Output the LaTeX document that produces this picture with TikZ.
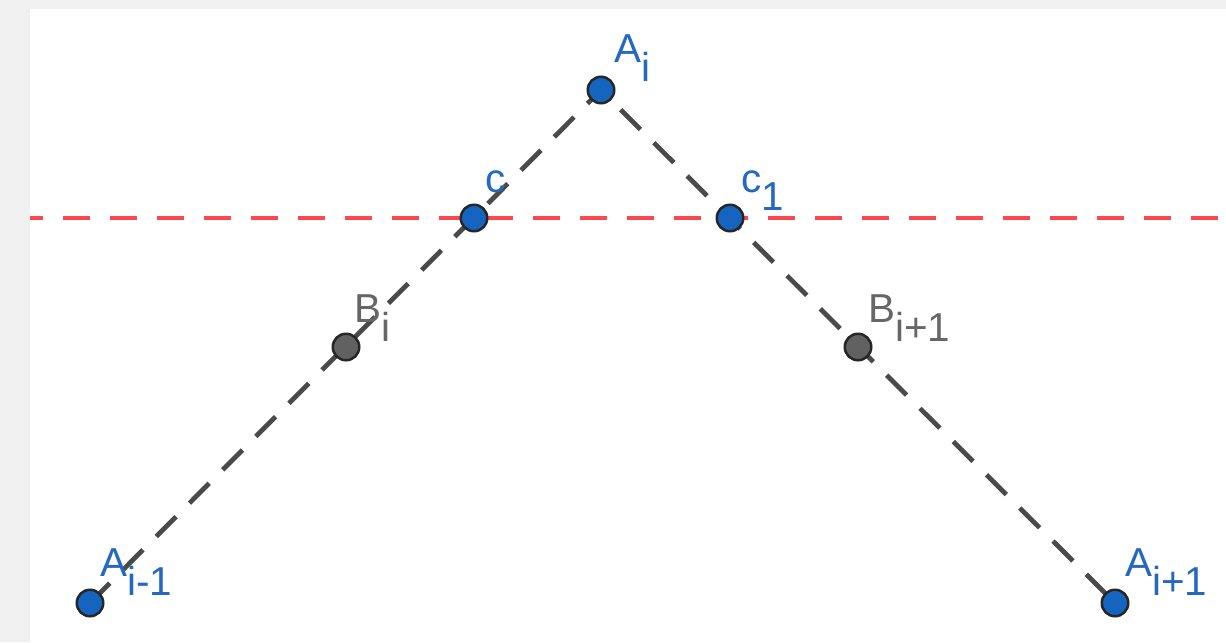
\documentclass[tikz,border=0pt]{standalone}
\usepackage{fontspec}
\setmainfont{Liberation Sans}
\definecolor{ptblue}{HTML}{1565C0}
\definecolor{lblblue}{HTML}{2468C4}
\definecolor{ptgray}{HTML}{616161}
\definecolor{lblgray}{HTML}{666666}
\definecolor{segcol}{HTML}{4A4A4A}
\definecolor{redline}{RGB}{250,72,78}
\definecolor{bggray}{HTML}{F0F0F0}
\newcommand{\lblsub}[2]{#1\raisebox{-0.38cm}{#2}}
\begin{document}
\begin{tikzpicture}[x=0.02cm,y=-0.02cm,
  pt/.style={circle,draw=black!85,line width=0.05cm,inner sep=0pt,minimum size=0.53cm},
  seg/.style={segcol,line width=0.095cm,dash pattern=on 0.56cm off 0.38cm},
  lbl/.style={anchor=base west,inner sep=0pt,font=\fontsize{23}{26}\selectfont}]
\useasboundingbox (0,0) rectangle (1226,642);
% canvas
\fill[bggray] (0,0) rectangle (1226,642);
\fill[white] (30,9) rectangle (1226,642);
% points
\coordinate (Aim) at (90,603);
\coordinate (Ai) at (601,90);
\coordinate (Aip) at (1115,603);
\coordinate (c) at (474,218);
\coordinate (c1) at (730,218);
\coordinate (Bi) at (346,347);
\coordinate (Bip) at (858,347);
\coordinate (Lft) at (30,218); \coordinate (Rgt) at (1226,218);
% lines
\draw[redline,line width=0.095cm,dash pattern=on 0.54cm off 0.4cm,dash phase=0.28cm] (Lft) -- (Rgt);
\draw[seg] (Aim) -- (Ai) -- (Aip);
\foreach \p in {Aim,Ai,Aip,c,c1} \node[pt,fill=ptblue] (\p-pt) at (\p) {};
\foreach \p in {Bi,Bip} \node[pt,fill=ptgray] (\p-pt) at (\p) {};
% labels
\node[lbl,lblblue] (lAi) at (614,63) {\lblsub{A}{i}};
\node[lbl,lblblue] (lc) at (485,192) {c};
\node[lbl,lblblue] (lc1) at (741,192) {\lblsub{c}{1}};
\node[lbl,lblgray] (lBi) at (354,322) {\lblsub{B}{i}};
\node[lbl,lblgray] (lBip) at (868,322) {\lblsub{B}{i+1}};
\node[lbl,lblblue] (lAim) at (100,576) {\lblsub{A}{i-1}};
\node[lbl,lblblue] (lAip) at (1125,576) {\lblsub{A}{i+1}};
\end{tikzpicture}
\end{document}
